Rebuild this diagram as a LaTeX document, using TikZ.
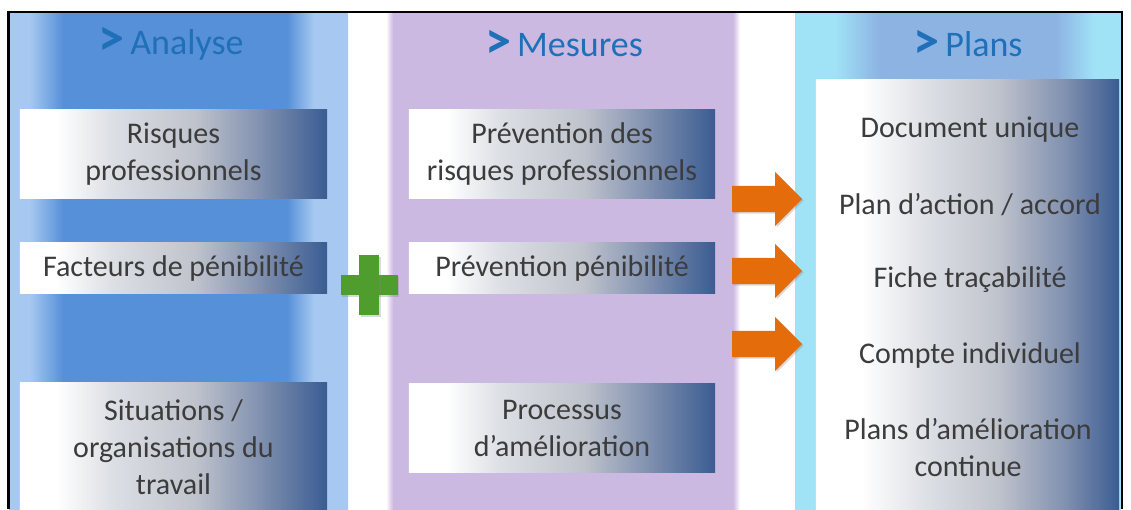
\documentclass[tikz,border=0pt]{standalone}
\usepackage{fontspec}
\setmainfont{Carlito}
\usepackage{graphicx}
\usepackage{tikz}
\usetikzlibrary{shapes.arrows}
\usetikzlibrary{shadows}

\definecolor{analyselight}{HTML}{A7C9F1}
\definecolor{analysedark}{HTML}{5690D8}
\definecolor{mesureslav}{HTML}{CCB9E2}
\definecolor{planscyan}{HTML}{A0E3F6}
\definecolor{plansblue}{HTML}{8DB3E3}
\definecolor{boxlight}{HTML}{DCDFE4}
\definecolor{boxgray}{HTML}{BFC3CC}
\definecolor{boxmid}{HTML}{8191B0}
\definecolor{boxblue}{HTML}{3A5C92}
\definecolor{arroworange}{HTML}{E46C0A}
\definecolor{plusgreen}{HTML}{4E9D2D}
\definecolor{titleblue}{HTML}{1F70B8}
\definecolor{textgray}{HTML}{3C3C3C}

\pgfdeclarehorizontalshading{analysefade}{100bp}{color(0bp)=(analyselight); color(28bp)=(analyselight); color(33bp)=(analysedark); color(66bp)=(analysedark); color(70bp)=(analyselight); color(100bp)=(analyselight)}
\pgfdeclarehorizontalshading{mesuresfade}{100bp}{color(0bp)=(white); color(25bp)=(white); color(26bp)=(mesureslav); color(74bp)=(mesureslav); color(75bp)=(white); color(100bp)=(white)}
\pgfdeclarehorizontalshading{plansfade}{100bp}{color(0bp)=(planscyan); color(31bp)=(planscyan); color(38bp)=(plansblue); color(65bp)=(plansblue); color(71bp)=(planscyan); color(100bp)=(planscyan)}
\pgfdeclarehorizontalshading{boxfade}{100bp}{color(0bp)=(white); color(31bp)=(white); color(40bp)=(boxlight); color(53.5bp)=(boxgray); color(64bp)=(boxmid); color(75bp)=(boxblue); color(100bp)=(boxblue)}
\pgfdeclarehorizontalshading{plansboxfade}{100bp}{color(0bp)=(white); color(32.5bp)=(white); color(43.5bp)=(boxlight); color(55bp)=(boxgray); color(66bp)=(boxmid); color(75bp)=(boxblue); color(100bp)=(boxblue)}

\pgfdeclarelayer{backdrop}
\pgfsetlayers{backdrop,main}

\newcommand{\itemfont}{\fontsize{30}{37}\selectfont}
\newcommand{\colheadfont}{\fontsize{36}{40}\selectfont}
\newcommand{\headmark}{\raisebox{-1.5pt}{\scalebox{1.45}{\textbf{>}}}\,}

\begin{document}
\begin{tikzpicture}[x = 1pt, y = -1pt,
  colhead/.style = {text = titleblue, font = \colheadfont, inner sep = 0},
  itembox/.style = {minimum width = 307, inner sep = 0, align = center, text = textgray, font = \itemfont},
  planitem/.style = {align = center, text = textgray, font = \itemfont, inner sep = 0},
  bigarrow/.style = {single arrow, fill = arroworange, minimum height = 70, inner xsep = 0, inner ysep = 13, single arrow head extend = 14, anchor = tail, drop shadow = {opacity = 0.3, shadow xshift = 1.5pt, shadow yshift = -1.5pt}},
  plusbar/.style = {fill = plusgreen, inner sep = 0, drop shadow = {opacity = 0.3, shadow xshift = 1.5pt, shadow yshift = -1.5pt}}]
\useasboundingbox (0, 0) rectangle (1131, 509);

\begin{pgfonlayer}{backdrop}
\shade[shading = analysefade] (9, 13) rectangle (348, 509);
\shade[shading = mesuresfade] (386, 13) rectangle (740, 509);
\shade[shading = plansfade] (795, 13) rectangle (1121, 509);
\end{pgfonlayer}

\node[colhead] (analyse) at (171, 44) {\headmark Analyse};
\node[colhead] (mesures) at (564, 44) {\headmark Mesures};
\node[colhead] (plans) at (968, 44) {\headmark Plans};

\node[itembox, minimum height = 88] (risques) at (173.5, 154) {Risques\\professionnels};
\node[itembox, minimum height = 50] (facteurs) at (173.5, 268) {Facteurs de pénibilité};
\node[itembox, minimum height = 128] (situations) at (173.5, 447) {Situations /\\organisations du\\travail};

\node[itembox, minimum width = 306, minimum height = 88] (prevrisques) at (562, 154) {Prévention des\\risques professionnels};
\node[itembox, minimum width = 306, minimum height = 50] (prevpenib) at (562, 268) {Prévention pénibilité};
\node[itembox, minimum width = 306, minimum height = 88] (processus) at (562, 428) {Processus\\d’amélioration};

\node[itembox, minimum width = 303, minimum height = 440] (plansbox) at (967.5, 300) {};
\node[planitem] (docunique) at (970, 130) {Document unique};
\node[planitem] (planaction) at (970, 205) {Plan d’action / accord};
\node[planitem] (fichetrac) at (970, 280) {Fiche traçabilité};
\node[planitem] (compteind) at (970, 355) {Compte individuel};
\node[planitem] (plansamel) at (968, 448) {Plans d’amélioration\\continue};

\begin{pgfonlayer}{backdrop}
\foreach \b in {risques, facteurs, situations, prevrisques, prevpenib, processus}
  \shade[shading = boxfade] (\b.north west) rectangle (\b.south east);
\shade[shading = plansboxfade] (plansbox.north west) rectangle (plansbox.south east);
\end{pgfonlayer}

\node[bigarrow] (arrowA) at (732, 199) {};
\node[bigarrow] (arrowB) at (732, 271) {};
\node[bigarrow] (arrowC) at (732, 344) {};

\coordinate (plus) at (369, 285);
\node[plusbar, minimum width = 57, minimum height = 20] (plusH) at (plus) {};
\node[plusbar, minimum width = 20, minimum height = 60] (plusV) at (plus) {};
\fill[plusgreen] (359, 275) rectangle (379, 295);

\draw[line width = 2.5] (8.5, 509) -- (8.5, 12) -- (1122, 12) -- (1122, 509);
\end{tikzpicture}
\end{document}
